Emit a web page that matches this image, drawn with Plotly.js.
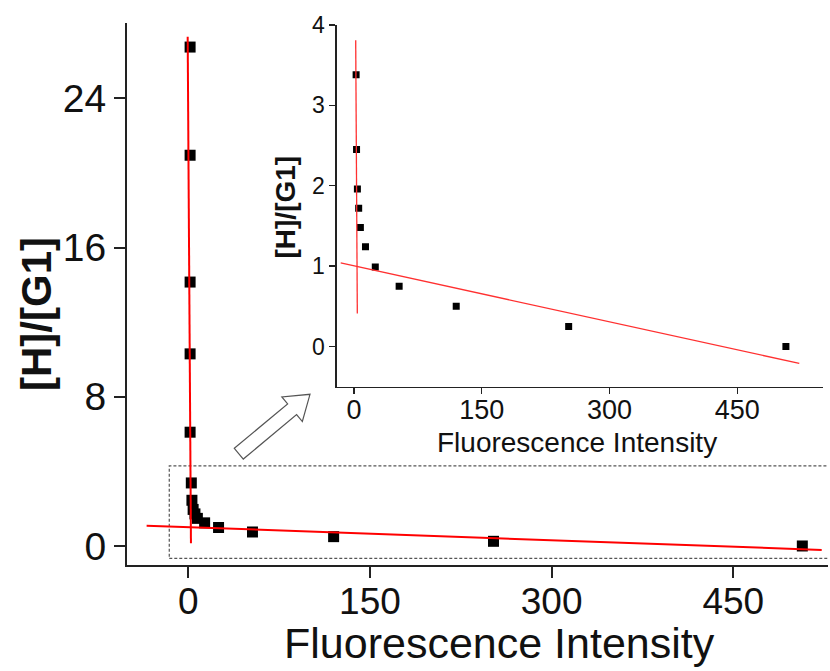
<!DOCTYPE html>
<html>
<head>
<meta charset="utf-8">
<script src="https://cdn.plot.ly/plotly-3.0.1.min.js"></script>
<style>html,body{margin:0;padding:0;background:#fff;}#chart{width:830px;height:671px;}</style>
</head>
<body>
<div id="chart"></div>
<script>
// ---- data ----
const fluorescence = [1.5, 1.5, 1.5, 1.5, 1.5, 2.5, 3, 4, 5.5, 7.5, 13.5, 25, 53, 120, 252, 507];
const ratioHG1     = [26.75, 20.95, 14.15, 10.3, 6.1, 3.38, 2.45, 1.96, 1.72, 1.48, 1.24, 0.99, 0.75, 0.5, 0.25, 0.0];

// fitted lines (end points)
const mainSteepFitX  = [-0.5, 2.2];
const mainSteepFitY  = [27.3, 0.14];
const mainShallowFitX = [-34.4, 523];
const mainShallowFitY = [1.09, -0.21];
const insetSteepFitX  = [2.0, 3.9];
const insetSteepFitY  = [3.81, 0.41];
const insetShallowFitX = [-15.6, 522.7];
const insetShallowFitY = [1.04, -0.21];

const mainXTicks = [0, 150, 300, 450];
const mainYTicks = [0, 8, 16, 24];
const insetXTicks = [0, 150, 300, 450];
const insetYTicks = [0, 1, 2, 3, 4];

const xTitle = 'Fluorescence Intensity';
const yTitle = '[H]/[G1]';

// ---- layout helpers ----
const W = 830, H = 671;
const M = {l: 127, r: 2, t: 23, b: 106};
const PW = W - M.l - M.r, PH = H - M.t - M.b;
const px2paperX = px => (px - M.l) / PW;
const px2paperY = py => (H - M.b - py) / PH;

const FONT = '"Liberation Sans", Arial, sans-serif';

// hollow arrow (pixel geometry -> paper)
function arrowPath() {
  const T = [310, 394.3], C = [238.8, 453.7];
  const dx = T[0] - C[0], dy = T[1] - C[1];
  const L = Math.hypot(dx, dy);
  const u = [dx / L, dy / L], n = [-u[1], u[0]];
  const sw = 7, hw = 16, hl = 23.3;
  const Hb = [T[0] - hl * u[0], T[1] - hl * u[1]];
  const pts = [
    [C[0] - sw * n[0], C[1] - sw * n[1]],
    [Hb[0] - sw * n[0], Hb[1] - sw * n[1]],
    [Hb[0] - hw * n[0], Hb[1] - hw * n[1]],
    T,
    [Hb[0] + hw * n[0], Hb[1] + hw * n[1]],
    [Hb[0] + sw * n[0], Hb[1] + sw * n[1]],
    [C[0] + sw * n[0], C[1] + sw * n[1]]
  ];
  return pts.map((p, i) => (i ? 'L' : 'M') + px2paperX(p[0]).toFixed(5) + ',' + px2paperY(p[1]).toFixed(5)).join(' ') + ' Z';
}

const traces = [
  {x: fluorescence, y: ratioHG1, type: 'scatter', mode: 'markers', xaxis: 'x', yaxis: 'y',
   marker: {symbol: 'square', size: 11, color: '#000'}, showlegend: false, hoverinfo: 'skip'},
  {x: mainSteepFitX, y: mainSteepFitY, type: 'scatter', mode: 'lines', xaxis: 'x', yaxis: 'y',
   line: {color: '#ff0000', width: 2}, showlegend: false, hoverinfo: 'skip'},
  {x: mainShallowFitX, y: mainShallowFitY, type: 'scatter', mode: 'lines', xaxis: 'x', yaxis: 'y',
   line: {color: '#ff0000', width: 2}, showlegend: false, hoverinfo: 'skip'},
  {x: fluorescence, y: ratioHG1, type: 'scatter', mode: 'markers', xaxis: 'x2', yaxis: 'y2',
   marker: {symbol: 'square', size: 7, color: '#000'}, showlegend: false, hoverinfo: 'skip'},
  {x: insetSteepFitX, y: insetSteepFitY, type: 'scatter', mode: 'lines', xaxis: 'x2', yaxis: 'y2',
   line: {color: '#ff3030', width: 1.3}, showlegend: false, hoverinfo: 'skip'},
  {x: insetShallowFitX, y: insetShallowFitY, type: 'scatter', mode: 'lines', xaxis: 'x2', yaxis: 'y2',
   line: {color: '#ff3030', width: 1.3}, showlegend: false, hoverinfo: 'skip'}
];

const mainAxisCommon = {showgrid: false, zeroline: false, showline: true, linecolor: '#222', linewidth: 2,
  ticks: 'outside', ticklen: 11, tickwidth: 2, tickcolor: '#222',
  tickfont: {family: FONT, size: 39, color: '#111'}, fixedrange: true};
const insetAxisCommon = {showgrid: false, zeroline: false, showline: true, linecolor: '#222', linewidth: 1.3,
  ticks: 'outside', ticklen: 6, tickwidth: 1.3, tickcolor: '#222', fixedrange: true};

const layout = {
  width: W, height: H,
  margin: M,
  paper_bgcolor: '#fff', plot_bgcolor: 'rgba(0,0,0,0)',
  showlegend: false,
  xaxis: Object.assign({}, mainAxisCommon, {domain: [0, 1], range: [-50.6, 528.2], anchor: 'y',
    tickmode: 'array', tickvals: mainXTicks, ticktext: mainXTicks.map(String),
    tickfont: {family: FONT, size: 37, color: '#111'}, ticklabelstandoff: -8}),
  yaxis: Object.assign({}, mainAxisCommon, {domain: [0, 1], range: [-1.02, 28.04], anchor: 'x',
    tickmode: 'array', tickvals: mainYTicks, ticktext: mainYTicks.map(String)}),
  xaxis2: Object.assign({}, insetAxisCommon, {domain: [px2paperX(336.7), px2paperX(822.7)], range: [-20.3, 550.2],
    anchor: 'y2', tickmode: 'array', tickvals: insetXTicks, ticktext: insetXTicks.map(String),
    tickfont: {family: FONT, size: 27, color: '#111'}, ticklabelstandoff: -7}),
  yaxis2: Object.assign({}, insetAxisCommon, {domain: [px2paperY(386.7), px2paperY(25)], range: [-0.5, 4.0],
    anchor: 'x2', tickmode: 'array', tickvals: insetYTicks, ticktext: insetYTicks.map(String),
    tickfont: {family: FONT, size: 23, color: '#111'}}),
  shapes: [
    {type: 'rect', xref: 'x', yref: 'y', x0: -15.7, x1: 620, y0: -0.66, y1: 4.29,
     line: {color: '#555', width: 1.2, dash: '3px,2px'}, fillcolor: 'rgba(0,0,0,0)', layer: 'below'},
    {type: 'path', xref: 'paper', yref: 'paper', path: arrowPath(),
     line: {color: '#555', width: 1.2}, fillcolor: '#fff', layer: 'above'}
  ],
  annotations: [
    {text: xTitle, xref: 'paper', yref: 'paper', x: px2paperX(499), y: px2paperY(643),
     xanchor: 'center', yanchor: 'middle', showarrow: false, font: {family: FONT, size: 43, color: '#111'}},
    {text: '<b>' + yTitle + '</b>', xref: 'paper', yref: 'paper', x: px2paperX(37), y: px2paperY(314),
     xanchor: 'center', yanchor: 'middle', textangle: -90, showarrow: false, font: {family: FONT, size: 42, color: '#111'}},
    {text: xTitle, xref: 'paper', yref: 'paper', x: px2paperX(577), y: px2paperY(442),
     xanchor: 'center', yanchor: 'middle', showarrow: false, font: {family: FONT, size: 28, color: '#111'}},
    {text: '<b>' + yTitle + '</b>', xref: 'paper', yref: 'paper', x: px2paperX(285), y: px2paperY(207.5),
     xanchor: 'center', yanchor: 'middle', textangle: -90, showarrow: false, font: {family: FONT, size: 28, color: '#111'}}
  ]
};

Plotly.newPlot('chart', traces, layout, {staticPlot: true, displayModeBar: false});
</script>
</body>
</html>
